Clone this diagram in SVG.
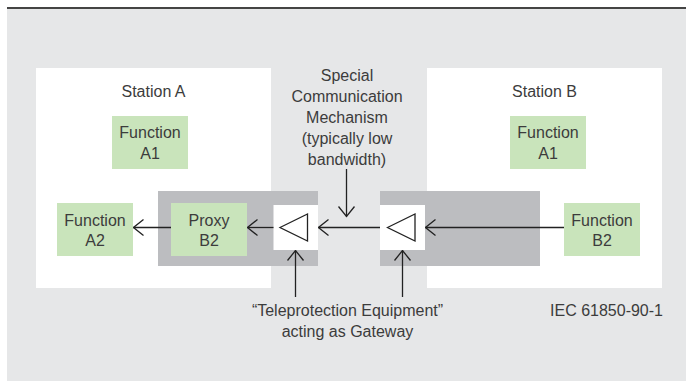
<svg xmlns="http://www.w3.org/2000/svg" width="686" height="381" viewBox="0 0 686 381">
<defs>
<style>
.t{font-family:"Liberation Sans",Arial,sans-serif;font-size:16px;fill:#3c3c3c;text-anchor:middle}
.fn{fill:#c9e4bb}
.st{fill:#ffffff}
.gw{fill:#bcbdc0}
.wb{fill:#ffffff}
.tri{fill:#ffffff;stroke:#222;stroke-width:1.3}
.c{stroke:#222;stroke-width:1.3;fill:none;marker-end:url(#arr)}
</style>
<marker id="arr" viewBox="-11 -9 12 18" refX="0" refY="0" markerWidth="12" markerHeight="18" orient="auto" markerUnits="userSpaceOnUse">
<path d="M-10,-8 L0,0 L-10,8" fill="none" stroke="#222" stroke-width="1.3"/>
</marker>
</defs>
<rect x="7" y="8" width="679" height="373" fill="#e6e7e8"/>
<rect x="7" y="7" width="679" height="2" fill="#444"/>

<g id="stationA">
<rect class="st" x="36" y="68" width="235" height="220"/>
<text class="t" x="153.5" y="97">Station A</text>
</g>
<g id="stationB">
<rect class="st" x="427" y="68" width="235" height="220"/>
<text class="t" x="544.5" y="97">Station B</text>
</g>

<g id="gatewayA">
<rect class="gw" x="158" y="191" width="160" height="75"/>
<rect class="wb" x="273.5" y="205" width="44.5" height="45"/>
<polygon class="tri" points="280,227.5 307.5,214 307.5,241"/>
</g>
<g id="gatewayB">
<rect class="gw" x="380" y="191" width="160" height="75"/>
<rect class="wb" x="380" y="205" width="45" height="45"/>
<polygon class="tri" points="387.5,227.5 415,214 415,241"/>
</g>

<g id="functionA1_A">
<rect class="fn" x="112" y="116" width="76" height="53"/>
<text class="t" x="150" y="138">Function</text>
<text class="t" x="150" y="159">A1</text>
</g>
<g id="functionA2">
<rect class="fn" x="57" y="203" width="76" height="53"/>
<text class="t" x="95" y="226">Function</text>
<text class="t" x="95" y="246">A2</text>
</g>
<g id="proxyB2">
<rect class="fn" x="171" y="203" width="76" height="53"/>
<text class="t" x="209" y="226">Proxy</text>
<text class="t" x="209" y="246">B2</text>
</g>
<g id="functionA1_B">
<rect class="fn" x="510" y="116" width="76" height="53"/>
<text class="t" x="548" y="138">Function</text>
<text class="t" x="548" y="159">A1</text>
</g>
<g id="functionB2">
<rect class="fn" x="564" y="203" width="76" height="53"/>
<text class="t" x="602" y="226">Function</text>
<text class="t" x="602" y="246">B2</text>
</g>

<g id="labelSpecial">
<text class="t" x="347" y="80.5">Special</text>
<text class="t" x="347" y="101.7">Communication</text>
<text class="t" x="347" y="122.9">Mechanism</text>
<text class="t" x="347" y="144.1">(typically low</text>
<text class="t" x="347" y="165.3">bandwidth)</text>
</g>
<g id="labelGateway">
<text class="t" x="347.5" y="315.5">“Teleprotection Equipment”</text>
<text class="t" x="347.5" y="337">acting as Gateway</text>
</g>
<g id="labelIEC">
<text class="t" x="663" y="315.5" style="text-anchor:end">IEC 61850-90-1</text>
</g>

<g id="connectors">
<line class="c" x1="171" y1="227.5" x2="133.5" y2="227.5"/>
<line class="c" x1="273.5" y1="227.5" x2="247.5" y2="227.5"/>
<line class="c" x1="564" y1="227.5" x2="425.5" y2="227.5"/>
<line class="c" x1="380" y1="227.5" x2="318.5" y2="227.5"/>
<line class="c" x1="346.5" y1="169" x2="346.5" y2="216.5"/>
<line class="c" x1="295.5" y1="297" x2="295.5" y2="250.5"/>
<line class="c" x1="402.5" y1="297" x2="402.5" y2="250.5"/>
</g>
</svg>
